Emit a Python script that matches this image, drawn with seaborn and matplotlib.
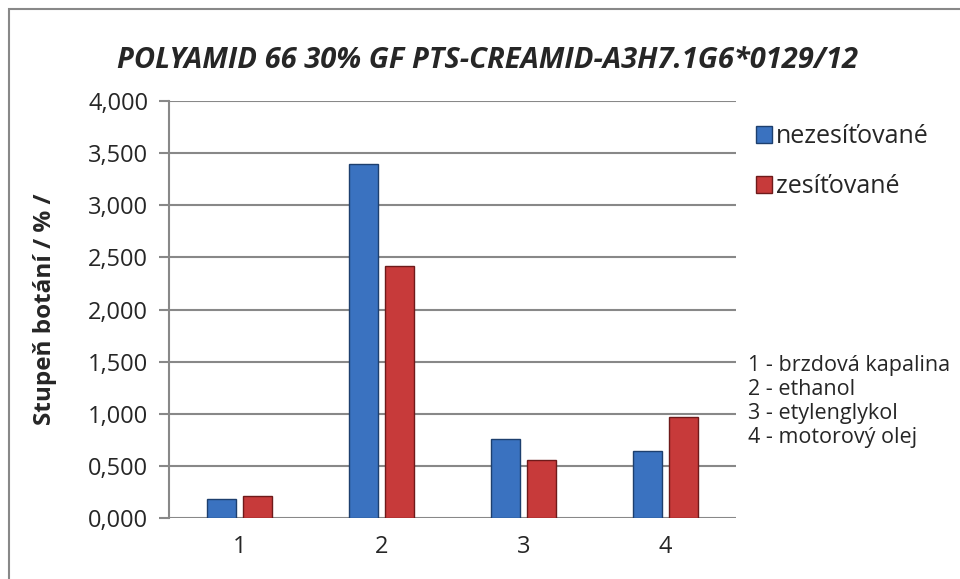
import matplotlib
matplotlib.use("Agg")
import matplotlib.pyplot as plt
import matplotlib.patches as mpatches
import seaborn as sns
import pandas as pd
from matplotlib.ticker import FuncFormatter

# Data
categories = ["1", "2", "3", "4"]
nezesitovane = [0.18, 3.40, 0.76, 0.64]
zesitovane = [0.21, 2.42, 0.56, 0.97]
series_names = ["nezesíťované", "zesíťované"]
media = ["1 - brzdová kapalina", "2 - ethanol", "3 - etylenglykol", "4 - motorový olej"]

df = pd.DataFrame({
    "cat": categories * 2,
    "value": nezesitovane + zesitovane,
    "series": [series_names[0]] * 4 + [series_names[1]] * 4,
})

sns.set_style("white")
plt.rcParams["font.family"] = ["Open Sans", "DejaVu Sans"]

colors = ["#3a72c0", "#c73a3a"]
edges = ["#1d3f6e", "#6e1a1a"]

fig = plt.figure(figsize=(9.6, 5.79), dpi=100)
ax = fig.add_axes([0.176, 0.1054, 0.591, 0.72])

sns.barplot(data=df, x="cat", y="value", hue="series", palette=colors,
            width=0.507, gap=0.19, ax=ax, legend=False, saturation=1)

for i, cont in enumerate(ax.containers):
    for bar in cont:
        bar.set_edgecolor(edges[i])
        bar.set_linewidth(1.0)
        bar.set_zorder(3)

ax.set_ylim(0, 4)
ax.set_xlim(-0.5, 3.5)
ax.set_yticks([i * 0.5 for i in range(9)])
ax.yaxis.set_major_formatter(FuncFormatter(lambda v, p: f"{v:.3f}".replace(".", ",")))
ax.grid(axis="y", color="#888888", linewidth=1.5, zorder=0)
ax.set_axisbelow(True)
for s in ["top", "right", "bottom"]:
    ax.spines[s].set_visible(False)
ax.spines["left"].set_color("#888888")
ax.spines["left"].set_linewidth(1.5)
ax.tick_params(axis="y", which="major", length=7, width=1.5, color="#888888",
               labelsize=17, pad=8, left=True)
ax.tick_params(axis="x", length=0, labelsize=17, pad=12)
ax.set_xlabel("")
ax.set_ylabel("Stupeň botání / % /", fontsize=17.5, fontweight="bold", labelpad=22)

fig.text(0.508, 0.896, "POLYAMID 66 30% GF PTS-CREAMID-A3H7.1G6*0129/12",
         ha="center", va="center", fontsize=21, fontweight="bold", style="italic")

# legend
handles = [mpatches.Patch(facecolor=colors[i], edgecolor=edges[i], label=series_names[i])
           for i in range(2)]
fig.legend(handles=handles, loc="upper left", bbox_to_anchor=(0.777, 0.803),
           frameon=False, fontsize=18, handlelength=0.65, handleheight=0.65,
           handletextpad=0.15, labelspacing=1.0, borderaxespad=0)

# media notes
for i, txt in enumerate(media):
    fig.text(0.779, 1 - (366 + i * 23.7) / 579, txt, ha="left", va="center", fontsize=15.5)

# outer chart frame
fig.patches.append(mpatches.Rectangle((9 / 960, -0.1), 1.2, 1 - 9.5 / 579 + 0.1,
                                      transform=fig.transFigure, fill=False,
                                      edgecolor="#888888", linewidth=1.5))

fig.savefig("out.png", dpi=100)
